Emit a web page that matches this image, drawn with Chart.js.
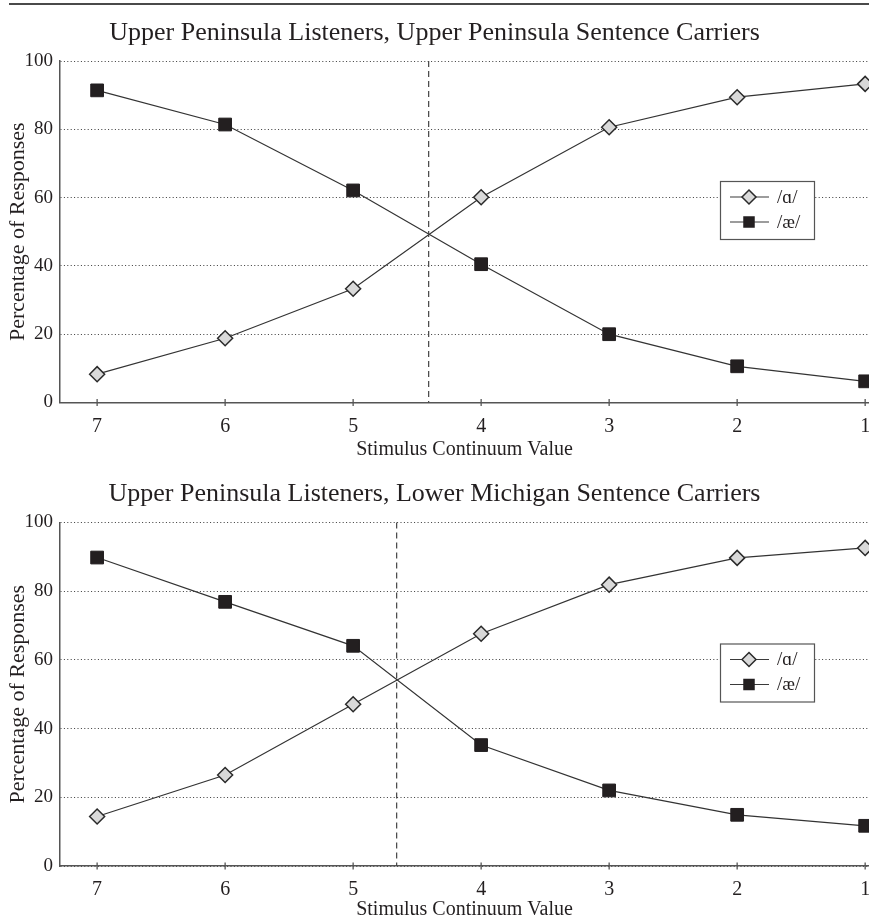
<!DOCTYPE html>
<html>
<head>
<meta charset="utf-8">
<script src="https://cdn.jsdelivr.net/npm/chart.js@4/dist/chart.umd.min.js"></script>
<style>
  html, body { margin: 0; padding: 0; background: #fff; }
  #page { position: relative; width: 869px; height: 922px; overflow: hidden; }
  #rule { position: absolute; left: 9px; right: 0; top: 3px; height: 2px; background: #4a4a4a; z-index: 2; }
  .panel { position: absolute; left: 0; width: 869px; }
  #p1 { top: 0; height: 462px; }
  #p2 { top: 460px; height: 462px; }
</style>
</head>
<body>
<div id="page">
  <div id="rule"></div>
  <div class="panel" id="p1"><canvas id="c1"></canvas></div>
  <div class="panel" id="p2"><canvas id="c2"></canvas></div>
</div>
<script>
// Stimulus continuum steps, left to right
const categories = [7, 6, 5, 4, 3, 2, 1];
const yTicks = [0, 20, 40, 60, 80, 100];
const seriesNames = ['/\u0251/', '/\u00e6/'];

// Upper Peninsula sentence carriers (% responses)
const upAlpha = [8.3, 18.8, 33.3, 60.1, 80.6, 89.4, 93.3];
const upAe    = [91.4, 81.4, 62.1, 40.5, 20.0, 10.6, 6.2];
// Lower Michigan sentence carriers (% responses)
const lmAlpha = [14.4, 26.5, 47.1, 67.6, 81.9, 89.7, 92.6];
const lmAe    = [89.8, 76.9, 64.1, 35.2, 22.0, 14.9, 11.7];

// Category boundary (50% crossover) on the continuum
const boundaryUP = 4.41;
const boundaryLM = 4.66;

const titleUP = 'Upper Peninsula Listeners, Upper Peninsula Sentence Carriers';
const titleLM = 'Upper Peninsula Listeners, Lower Michigan Sentence Carriers';
const xTitle = 'Stimulus Continuum Value';
const yTitle = 'Percentage of Responses';

const SERIF = '"Liberation Serif", "DejaVu Serif", serif';
const INK = '#231f20';
const DIAMOND_FILL = '#d9d9d9';

function points(vals) {
  return categories.map((c, i) => ({ x: c, y: vals[i] }));
}

// Boundary line, axis tick marks and the inset key
const decorations = {
  id: 'decorations',
  afterDatasetsDraw(chart, args, opts) {
    const { ctx, chartArea: a, scales: { x, y } } = chart;
    ctx.save();
    // dashed boundary
    const bx = x.getPixelForValue(opts.boundary);
    ctx.strokeStyle = '#444';
    ctx.lineWidth = 1.2;
    ctx.setLineDash([6, 4]);
    ctx.beginPath();
    ctx.moveTo(bx, y.getPixelForValue(100));
    ctx.lineTo(bx, y.getPixelForValue(0));
    ctx.stroke();
    ctx.setLineDash([]);
    // tick marks crossing the x axis
    ctx.strokeStyle = '#555';
    ctx.lineWidth = 1.3;
    const ay = y.getPixelForValue(0);
    categories.forEach(c => {
      const tx = x.getPixelForValue(c);
      ctx.beginPath();
      ctx.moveTo(tx, ay - 3.5);
      ctx.lineTo(tx, ay + 3.5);
      ctx.stroke();
    });
    // key box
    const L = a.left + 660, T = a.top + opts.keyTop, W = 94, H = 58;
    ctx.fillStyle = '#fff';
    ctx.fillRect(L, T, W, H);
    ctx.strokeStyle = '#555';
    ctx.lineWidth = 1.2;
    ctx.strokeRect(L + 0.5, T + 0.5, W, H);
    const rows = [T + 16, T + 41];
    chart.data.datasets.forEach((ds, i) => {
      const ry = rows[i];
      ctx.strokeStyle = '#3a3a3a';
      ctx.lineWidth = 1.2;
      ctx.beginPath();
      ctx.moveTo(L + 10, ry);
      ctx.lineTo(L + 49, ry);
      ctx.stroke();
      ctx.fillStyle = ds.pointBackgroundColor;
      ctx.strokeStyle = ds.pointBorderColor;
      ctx.lineWidth = 1.5;
      const r = i === 0 ? 7 : 5;
      ctx.beginPath();
      if (ds.pointStyle === 'rectRot') {
        ctx.moveTo(L + 29 - r, ry);
        ctx.lineTo(L + 29, ry - r);
        ctx.lineTo(L + 29 + r, ry);
        ctx.lineTo(L + 29, ry + r);
        ctx.closePath();
      } else {
        ctx.rect(L + 29 - r, ry - r, 2 * r, 2 * r);
      }
      ctx.fill();
      ctx.stroke();
      ctx.fillStyle = INK;
      ctx.font = '19px ' + SERIF;
      ctx.textBaseline = 'middle';
      ctx.textAlign = 'left';
      ctx.fillText(ds.label, L + 57, ry + 1);
    });
    ctx.restore();
  }
};

function makeChart(canvasId, title, alpha, ae, boundary, cfg) {
  return new Chart(document.getElementById(canvasId), {
    type: 'line',
    data: {
      datasets: [
        {
          label: seriesNames[0],
          data: points(alpha),
          borderColor: '#333',
          borderWidth: 1.2,
          pointStyle: 'rectRot',
          pointRadius: 7.5,
          pointBackgroundColor: DIAMOND_FILL,
          pointBorderColor: '#2a2a2a',
          pointBorderWidth: 1.5,
          clip: false,
          order: 1
        },
        {
          label: seriesNames[1],
          data: points(ae),
          borderColor: '#333',
          borderWidth: 1.2,
          pointStyle: 'rect',
          pointRadius: 9,
          pointBackgroundColor: INK,
          pointBorderColor: INK,
          pointBorderWidth: 1,
          clip: false,
          order: 2
        }
      ]
    },
    options: {
      responsive: true,
      maintainAspectRatio: false,
      animation: false,
      layout: { padding: 0, autoPadding: false },
      plugins: {
        legend: { display: false },
        tooltip: { enabled: false },
        title: {
          display: true,
          text: title,
          color: INK,
          font: { family: SERIF, size: 26, weight: 'normal', lineHeight: 1.2 },
          padding: { top: cfg.titleTop, bottom: cfg.titleBottom }
        },
        decorations: { boundary: boundary, keyTop: cfg.keyTop }
      },
      scales: {
        x: {
          type: 'linear',
          reverse: true,
          min: 0.97,
          max: 7.29,
          afterBuildTicks: s => { s.ticks = categories.map(v => ({ value: v })); },
          afterFit: s => { s.height = cfg.xHeight; s.paddingLeft = 0; s.paddingRight = 0; },
          grid: { display: false, drawTicks: false },
          border: { display: true, color: '#555', width: 1.5 },
          ticks: {
            padding: 12,
            color: INK,
            font: { family: SERIF, size: 20 },
            maxRotation: 0
          },
          title: {
            display: true,
            text: xTitle,
            color: INK,
            font: { family: SERIF, size: 20 },
            padding: { top: 0, bottom: 0 }
          }
        },
        y: {
          min: 0,
          max: 100,
          afterBuildTicks: s => { s.ticks = yTicks.map(v => ({ value: v })); },
          afterFit: s => { s.width = 60; },
          grid: {
            color: '#3a3a3a',
            lineWidth: 1,
            drawTicks: false
          },
          // dotted horizontal gridlines, solid axis line
          border: { display: true, color: '#555', width: 1.5, dash: [1, 2.4] },
          ticks: {
            padding: 7,
            color: INK,
            font: { family: SERIF, size: 19 }
          },
          title: {
            display: true,
            text: yTitle,
            color: INK,
            font: { family: SERIF, size: 22 },
            padding: { top: 5, bottom: 0 }
          }
        }
      }
    },
    plugins: [decorations]
  });
}

makeChart('c1', titleUP, upAlpha, upAe, boundaryUP,
  { titleTop: 17.4, titleBottom: 12.4, xHeight: 59.5, keyTop: 120 });
makeChart('c2', titleLM, lmAlpha, lmAe, boundaryLM,
  { titleTop: 18.4, titleBottom: 12.9, xHeight: 56, keyTop: 121 });
</script>
</body>
</html>
